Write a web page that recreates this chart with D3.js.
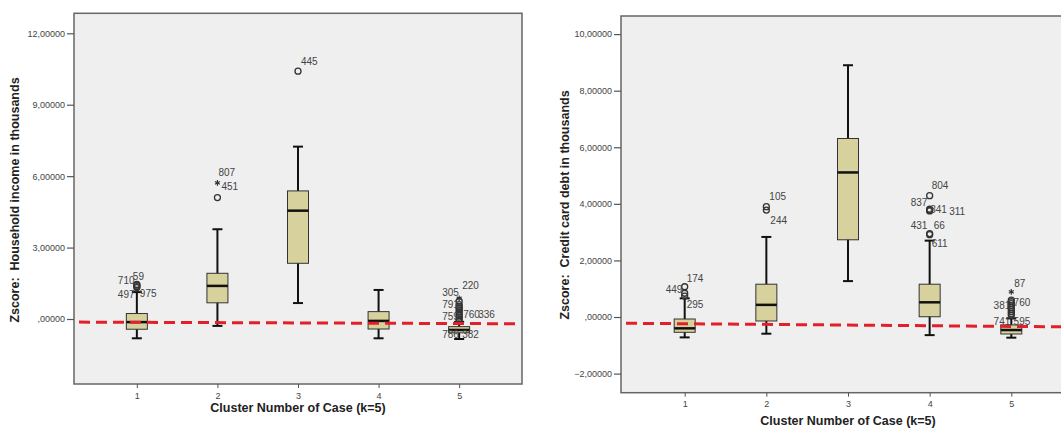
<!DOCTYPE html>
<html>
<head>
<meta charset="utf-8">
<script src="https://cdn.jsdelivr.net/npm/d3@7"></script>
<style>
  body { margin: 0; background: #fff; }
  svg { display: block; }
  text { font-family: "Liberation Sans", Arial, sans-serif; }
</style>
</head>
<body>
<svg id="chart" width="1061" height="428"></svg>
<script>
var clusters = ["1", "2", "3", "4", "5"];

// Zscore: household income, per cluster
var incomeLow    = [-0.81, -0.29, 0.67, -0.81, -0.84];
var incomeQ1     = [-0.43, 0.68, 2.34, -0.42, -0.58];
var incomeMedian = [-0.13, 1.39, 4.55, -0.08, -0.46];
var incomeQ3     = [0.23, 1.92, 5.38, 0.31, -0.32];
var incomeHigh   = [1.13, 3.77, 7.24, 1.22, -0.12];
var incomeOutliers = [
  ["1", 1.45, "o"], ["1", 1.42, "o"], ["1", 1.36, "o"], ["1", 1.32, "o"],
  ["2", 5.10, "o"], ["2", 5.72, "*"],
  ["3", 10.41, "o"],
  ["5", 0.87, "*"], ["5", 0.75, "o"], ["5", 0.6, "o"], ["5", 0.52, "o"], ["5", 0.45, "o"],
  ["5", 0.38, "o"], ["5", 0.3, "o"], ["5", 0.22, "o"], ["5", 0.15, "o"], ["5", 0.08, "o"],
  ["5", 0.0, "o"], ["5", -0.06, "o"]
];
var incomeLabels = [
  ["1", 1.42, "710"], ["1", 1.42, "59"], ["1", 1.42, "497"], ["1", 1.42, "975"],
  ["2", 5.72, "807"], ["2", 5.72, "451"],
  ["3", 10.41, "445"],
  ["5", 0, "305"], ["5", 0, "220"], ["5", 0, "791"], ["5", 0, "759"], ["5", 0, "760"],
  ["5", 0, "336"], ["5", 0, "786"], ["5", 0, "382"]
];
var incomeLabelOffsets = [
  [-19, -5], [-4, -8.5], [-19, 9], [3, 8],
  [1, -10], [4, 4],
  [3, -9.5],
  [-17, -26.7], [3, -33.3], [-17, -14.7], [-17, -2.3], [4, -4.7],
  [19, -5], [-17, 15], [3, 15]
];
var incomeRefLine = [-0.13, -0.2];
var incomeTicks = [0, 3, 6, 9, 12];

// Zscore: credit card debt, per cluster
var debtLow    = [-0.72, -0.59, 1.27, -0.64, -0.73];
var debtQ1     = [-0.54, -0.14, 2.73, 0.01, -0.6];
var debtMedian = [-0.40, 0.43, 5.11, 0.52, -0.46];
var debtQ3     = [-0.07, 1.16, 6.31, 1.16, -0.28];
var debtHigh   = [0.66, 2.83, 8.90, 2.70, -0.05];
var debtOutliers = [
  ["1", 1.07, "o"], ["1", 0.84, "o"], ["1", 0.74, "o"],
  ["2", 3.90, "o"], ["2", 3.78, "o"],
  ["4", 4.29, "o"], ["4", 3.81, "o"], ["4", 3.77, "o"], ["4", 3.75, "o"],
  ["4", 2.95, "o"], ["4", 2.91, "o"],
  ["5", 0.89, "*"], ["5", 0.6, "o"], ["5", 0.54, "o"], ["5", 0.47, "o"], ["5", 0.4, "o"],
  ["5", 0.33, "o"], ["5", 0.26, "o"], ["5", 0.19, "o"], ["5", 0.12, "o"], ["5", 0.06, "o"]
];
var debtLabels = [
  ["1", 1.07, "174"], ["1", 1.07, "449"], ["1", 1.07, "295"],
  ["2", 3.90, "105"], ["2", 3.90, "244"],
  ["4", 4.29, "804"], ["4", 4.29, "837"], ["4", 3.78, "841"], ["4", 3.78, "311"],
  ["4", 2.93, "431"], ["4", 2.93, "66"], ["4", 2.93, "611"],
  ["5", 0.89, "87"], ["5", 0, "381"], ["5", 0, "760"], ["5", 0, "741"], ["5", 0, "595"]
];
var debtLabelOffsets = [
  [2, -8.4], [-19, 2.6], [2, 17.6],
  [3, -10], [4, 13.4],
  [2, -10], [-19, 6.7], [0.5, -1], [19.5, 1],
  [-19, -8.3], [4, -8.3], [2, 9.3],
  [3, -8.5], [-17.7, -11.3], [2.3, -14.3], [-17.7, 4.7], [2.3, 4.7]
];
var debtRefLine = [-0.22, -0.35];
var debtTicks = [-2, 0, 2, 4, 6, 8, 10];

var svg = d3.select("#chart");

function fmt(v) {
  var s = d3.format(".5f")(v).replace(".", ",");
  return s.replace(/^0,/, ",").replace(/^-0,/, "-,");
}

function drawPanel(p) {
  var g = svg.append("g");
  var x = d3.scalePoint().domain(clusters).range([p.left, p.right]).padding(0.78);
  var y = d3.scaleLinear().domain(p.domain).range([p.bottom, p.top]);
  var bw = 21, cw = 10;

  g.append("rect")
    .attr("x", p.left).attr("y", p.top)
    .attr("width", p.right - p.left).attr("height", p.bottom - p.top)
    .attr("fill", "#efefef").attr("stroke", "#666").attr("stroke-width", 1.5);

  // y axis
  var ya = g.append("g").attr("transform", "translate(" + p.left + ",0)")
    .call(d3.axisLeft(y).tickValues(p.ticks).tickFormat(fmt).tickSize(7).tickPadding(2));
  ya.select(".domain").remove();
  ya.selectAll("line").attr("stroke", "#555").attr("stroke-width", 1.2);
  ya.selectAll("text").attr("font-size", 9).attr("fill", "#444")
    .attr("font-family", "'Liberation Sans', Arial, sans-serif");

  // x axis
  var xa = g.append("g").attr("transform", "translate(0," + p.bottom + ")")
    .call(d3.axisBottom(x).tickSize(4).tickPadding(p.xTickPad));
  xa.select(".domain").remove();
  xa.selectAll("line").attr("stroke", "#555");
  xa.selectAll("text").attr("font-size", 9).attr("fill", "#444")
    .attr("font-family", "'Liberation Sans', Arial, sans-serif");

  g.append("text")
    .attr("x", x("3")).attr("y", p.xTitleY)
    .attr("text-anchor", "middle").attr("font-size", 12.5).attr("font-weight", "bold")
    .attr("fill", "#222").text("Cluster Number of Case (k=5)");

  g.append("text")
    .attr("transform", "translate(" + p.yTitleX + "," + p.yTitleMid + ") rotate(-90)")
    .attr("text-anchor", "middle").attr("dominant-baseline", "central")
    .attr("font-size", 12.5).attr("font-weight", "bold").attr("fill", "#222")
    .attr("xml:space", "preserve")
    .text(p.yTitle);

  var boxes = clusters.map(function (c, i) {
    return { c: c, lo: p.low[i], q1: p.q1[i], med: p.median[i], q3: p.q3[i], hi: p.high[i] };
  });

  var b = g.selectAll("g.box").data(boxes).enter().append("g").attr("class", "box");
  b.append("line")
    .attr("x1", function (d) { return x(d.c); }).attr("x2", function (d) { return x(d.c); })
    .attr("y1", function (d) { return y(d.lo); }).attr("y2", function (d) { return y(d.hi); })
    .attr("stroke", "#111").attr("stroke-width", 2);
  b.selectAll("line.cap").data(function (d) { return [[d.c, d.lo], [d.c, d.hi]]; })
    .enter().append("line").attr("class", "cap")
    .attr("x1", function (d) { return x(d[0]) - cw / 2; })
    .attr("x2", function (d) { return x(d[0]) + cw / 2; })
    .attr("y1", function (d) { return y(d[1]); }).attr("y2", function (d) { return y(d[1]); })
    .attr("stroke", "#111").attr("stroke-width", 2);
  b.append("rect")
    .attr("x", function (d) { return x(d.c) - bw / 2; })
    .attr("y", function (d) { return y(d.q3); })
    .attr("width", bw)
    .attr("height", function (d) { return y(d.q1) - y(d.q3); })
    .attr("fill", "#d6d19d").attr("stroke", "#333").attr("stroke-width", 1);
  b.append("line")
    .attr("x1", function (d) { return x(d.c) - bw / 2; })
    .attr("x2", function (d) { return x(d.c) + bw / 2; })
    .attr("y1", function (d) { return y(d.med); }).attr("y2", function (d) { return y(d.med); })
    .attr("stroke", "#111").attr("stroke-width", 2.5);

  // outliers
  g.selectAll("circle.out").data(p.outliers.filter(function (d) { return d[2] === "o"; }))
    .enter().append("circle").attr("class", "out")
    .attr("cx", function (d) { return x(d[0]); }).attr("cy", function (d) { return y(d[1]); })
    .attr("r", 3).attr("fill", "none").attr("stroke", "#333").attr("stroke-width", 1.3);
  g.selectAll("path.star").data(p.outliers.filter(function (d) { return d[2] === "*"; }))
    .enter().append("path").attr("class", "star")
    .attr("transform", function (d) { return "translate(" + x(d[0]) + "," + y(d[1]) + ")"; })
    .attr("d", d3.symbol(d3.symbolAsterisk, 22))
    .attr("stroke", "#333").attr("stroke-width", 1.2).attr("fill", "none");

  g.selectAll("text.lab").data(p.labels).enter().append("text").attr("class", "lab")
    .attr("x", function (d, i) { return x(d[0]) + p.offsets[i][0]; })
    .attr("y", function (d, i) { return y(d[1]) + p.offsets[i][1]; })
    .attr("dominant-baseline", "central").attr("font-size", 10).attr("fill", "#444")
    .text(function (d) { return d[2]; });

  // red dashed reference line
  var line = d3.line().x(function (d) { return d[0]; }).y(function (d) { return y(d[1]); });
  g.append("path")
    .attr("d", line([[p.left + 5, p.ref[0]], [p.right - 2, p.ref[1]]]))
    .attr("stroke", "#e3202a").attr("stroke-width", 3).attr("fill", "none")
    .attr("stroke-dasharray", "11,6");
}

drawPanel({
  left: 74, right: 522, top: 13.3, bottom: 384, domain: [-2.73, 12.84],
  ticks: incomeTicks, xTickPad: 5, xTitleY: 412, yTitleX: 15, yTitleMid: 200,
  yTitle: "Zscore:  Household income in thousands",
  low: incomeLow, q1: incomeQ1, median: incomeMedian, q3: incomeQ3, high: incomeHigh,
  outliers: incomeOutliers, labels: incomeLabels, offsets: incomeLabelOffsets,
  ref: incomeRefLine
});

drawPanel({
  left: 621, right: 1075, top: 16, bottom: 392.7, domain: [-2.675, 10.64],
  ticks: debtTicks, xTickPad: 4, xTitleY: 425, yTitleX: 565, yTitleMid: 205,
  yTitle: "Zscore:  Credit card debt in thousands",
  low: debtLow, q1: debtQ1, median: debtMedian, q3: debtQ3, high: debtHigh,
  outliers: debtOutliers, labels: debtLabels, offsets: debtLabelOffsets,
  ref: debtRefLine
});
</script>
</body>
</html>
